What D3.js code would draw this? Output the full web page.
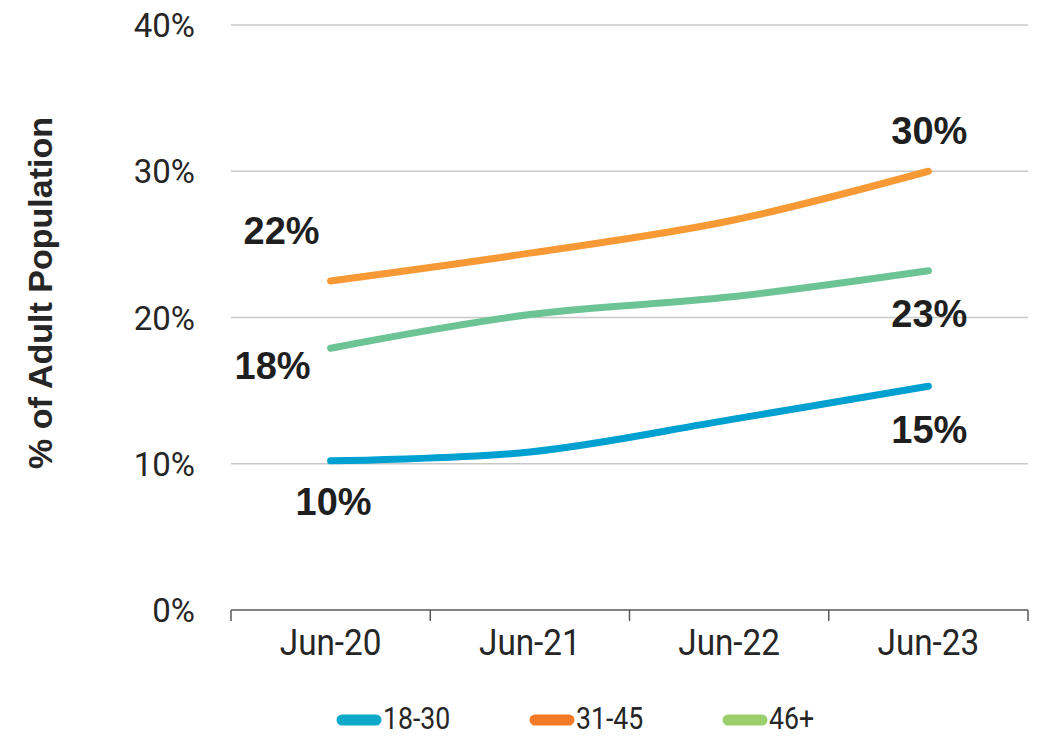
<!DOCTYPE html>
<html>
<head>
<meta charset="utf-8">
<script src="https://cdn.jsdelivr.net/npm/d3@7"></script>
<style>
  body { margin: 0; background: #fff; }
  svg { display: block; }
</style>
</head>
<body>
<svg id="svg" width="1037" height="738"></svg>
<script>
// chart data
const categories = ["Jun-20", "Jun-21", "Jun-22", "Jun-23"];
const seriesNames = ["18-30", "31-45", "46+"];
const values1830 = [10.2, 10.8, 13.0, 15.3];
const values3145 = [22.5, 24.4, 26.6, 30.0];
const values46 = [17.9, 20.2, 21.4, 23.2];
const yTicks = [0, 10, 20, 30, 40];
const endLabels = [["10%", "15%"], ["22%", "30%"], ["18%", "23%"]];

// styling
const lineColors = ["#00a0d1", "#f79a36", "#6cc495"];
const legendColors = ["#0aaac8", "#f47a28", "#9bcf6e"];
// label baseline offsets from first / last point: [dx, dy]
const labelOffsets = [
  [[3, 54], [1, 57]],
  [[-49, -37], [1, -27]],
  [[-58, 31], [1, 56]]
];

const allSeries = [values1830, values3145, values46];
const svg = d3.select("#svg");
const plotLeft = 231, plotRight = 1028, plotTop = 25, plotBottom = 610;

const x = d3.scaleBand().domain(categories).range([plotLeft, plotRight]);
const y = d3.scaleLinear().domain([0, 40]).range([plotBottom, plotTop]);

// gridlines
svg.append("g").selectAll("line").data(yTicks.filter(d => d > 0)).join("line")
  .attr("x1", plotLeft).attr("x2", plotRight)
  .attr("y1", d => y(d)).attr("y2", d => y(d))
  .attr("stroke", "#c8c8c8").attr("stroke-width", 1.5);

// y tick labels
svg.append("g").selectAll("text").data(yTicks).join("text")
  .attr("x", 195).attr("y", d => y(d) + 12)
  .attr("text-anchor", "end")
  .attr("font-family", "Roboto, sans-serif").attr("font-size", 33)
  .attr("fill", "#262626")
  .text(d => d + "%");

// x axis
svg.append("line").attr("x1", plotLeft).attr("x2", plotRight).attr("y1", plotBottom).attr("y2", plotBottom)
  .attr("stroke", "#595959").attr("stroke-width", 1.5);
const boundaries = categories.map(c => x(c)).concat([plotRight]);
svg.append("g").selectAll("line").data(boundaries).join("line")
  .attr("x1", d => d).attr("x2", d => d).attr("y1", plotBottom).attr("y2", plotBottom + 11)
  .attr("stroke", "#595959").attr("stroke-width", 1.5);
svg.append("g").selectAll("text").data(categories).join("text")
  .attr("transform", d => `translate(${x(d) + x.bandwidth() / 2},655) scale(0.9,1)`)
  .attr("text-anchor", "middle")
  .attr("font-family", "Roboto, sans-serif").attr("font-size", 37)
  .attr("fill", "#262626")
  .text(d => d);

// y axis title
svg.append("text")
  .attr("transform", "translate(52,293) rotate(-90)")
  .attr("text-anchor", "middle")
  .attr("font-family", "'Liberation Sans', Arial, sans-serif").attr("font-weight", "bold")
  .attr("font-size", 34).attr("fill", "#262626")
  .text("% of Adult Population");

// lines
const line = d3.line()
  .x((d, i) => x(categories[i]) + x.bandwidth() / 2)
  .y(d => y(d))
  .curve(d3.curveCatmullRom.alpha(0.5));

svg.append("g").selectAll("path").data(allSeries).join("path")
  .attr("d", d => line(d))
  .attr("fill", "none")
  .attr("stroke", (d, i) => lineColors[i])
  .attr("stroke-width", 7)
  .attr("stroke-linecap", "round");

// end labels
allSeries.forEach((vals, s) => {
  [0, vals.length - 1].forEach((idx, k) => {
    const px = x(categories[idx]) + x.bandwidth() / 2;
    const py = y(vals[idx]);
    svg.append("text")
      .attr("x", px + labelOffsets[s][k][0])
      .attr("y", py + labelOffsets[s][k][1])
      .attr("text-anchor", "middle")
      .attr("font-family", "'Liberation Sans', Arial, sans-serif").attr("font-weight", "bold")
      .attr("font-size", 38).attr("fill", "#1f1f1f")
      .text(endLabels[s][k]);
  });
});

// legend
const legendX = [337, 530, 723];
const lg = svg.append("g").selectAll("g").data(seriesNames).join("g")
  .attr("transform", (d, i) => `translate(${legendX[i]},720)`);
lg.append("line").attr("x1", 5).attr("x2", 39).attr("y1", 0).attr("y2", 0)
  .attr("stroke", (d, i) => legendColors[i]).attr("stroke-width", 11)
  .attr("stroke-linecap", "round");
lg.append("text")
  .attr("transform", "translate(46,9) scale(0.86,1)")
  .attr("font-family", "Roboto, sans-serif").attr("font-size", 31)
  .attr("fill", "#262626")
  .text(d => d);
</script>
</body>
</html>
